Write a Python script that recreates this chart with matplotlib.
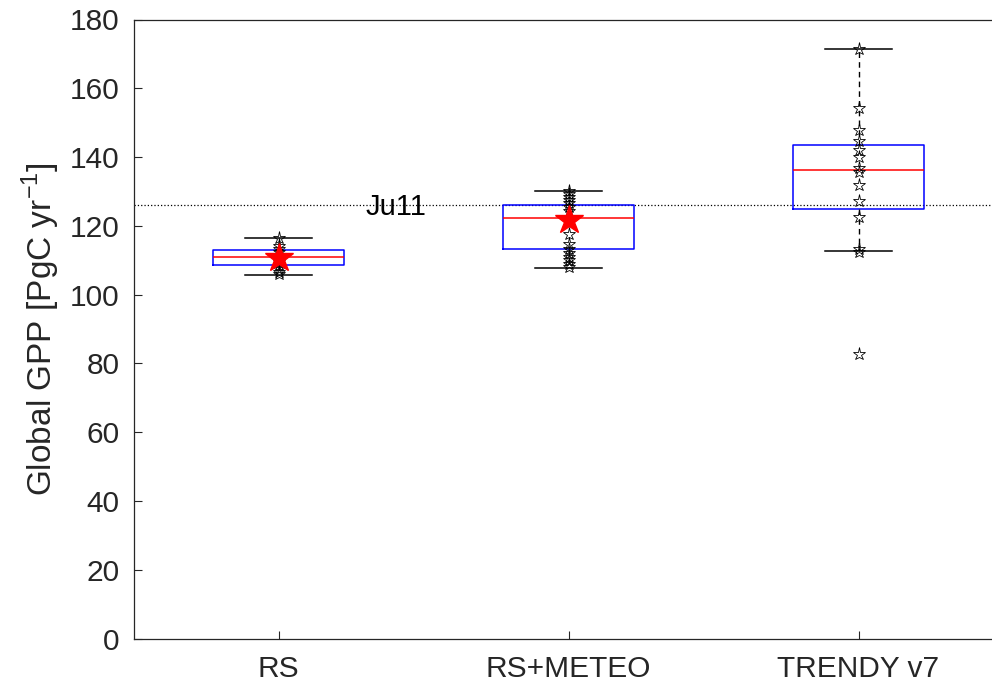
import matplotlib
matplotlib.use("Agg")

import numpy as np
import matplotlib.pyplot as plt

plt.rcParams["font.family"] = ["Liberation Sans", "DejaVu Sans"]
plt.rcParams["mathtext.fontset"] = "custom"
plt.rcParams["mathtext.rm"] = "Liberation Sans"

labels = ["RS", "RS+METEO", "TRENDY v7"]
# box statistics
q1 = [108.7, 113.4, 124.8]
med = [110.9, 122.3, 136.1]
q3 = [112.9, 126.2, 143.4]
whislo = [105.8, 107.8, 112.8]
whishi = [116.5, 130.2, 171.5]

# individual estimates
rs_pts = [116.5, 114.2, 113.3, 112.4, 111.5, 110.6, 109.6, 108.6, 107.5, 106.6, 106.0]
meteo_pts = [130.2, 129.2, 128.3, 127.5, 126.6, 125.6, 124.3, 117.7, 114.6,
             113.2, 112.1, 111.0, 110.0, 109.0, 108.0]
trendy_pts = [171.4, 154.3, 147.9, 144.8, 142.1, 139.9, 136.8, 135.6, 132.0,
              127.1, 122.5, 113.3, 112.5, 82.8]
means = [110.6, 121.6]
ju11 = 126.0

fig = plt.figure(figsize=(9.92, 6.9), dpi=100)
ax = fig.add_axes([133.5 / 992, 1 - 638.5 / 690, 870 / 992, 619 / 690])

stats = []
for i in range(3):
    stats.append({"label": labels[i], "q1": q1[i], "med": med[i], "q3": q3[i],
                  "whislo": whislo[i], "whishi": whishi[i], "fliers": []})

ax.bxp(stats, positions=[1, 2, 3], widths=0.45, showfliers=False,
       boxprops=dict(color="blue", linewidth=1.1),
       medianprops=dict(color="red", linewidth=1.1),
       whiskerprops=dict(color="black", linestyle=(0, (4, 3)), linewidth=1.0),
       capprops=dict(color="black", linewidth=1.1), capwidths=0.23)

ax.axhline(ju11, color="black", linestyle=":", linewidth=0.9, zorder=1)
ax.text(1.30, ju11 - 0.6, "Ju11", fontsize=21, va="center", ha="left")

for pos, pts in zip([1, 2, 3], [rs_pts, meteo_pts, trendy_pts]):
    ax.plot([pos] * len(pts), pts, linestyle="none", marker="*", markersize=9.5,
            markerfacecolor="none", markeredgecolor="black", markeredgewidth=0.6,
            zorder=4)

ax.plot([1, 2], means, linestyle="none", marker="*", markersize=21,
        color="red", markeredgecolor="red", zorder=5)

ax.set_xlim(0.5, 3.5)
ax.set_ylim(0, 180)
ax.set_yticks(np.arange(0, 181, 20))
ax.set_xticks([1, 2, 3])
ax.set_xticklabels(labels)
ax.tick_params(labelsize=21.5, colors="#262626", direction="in", length=6, width=0.8)
ax.tick_params(axis="x", pad=12)
ax.tick_params(axis="y", pad=10)
for lab in ax.get_xticklabels() + ax.get_yticklabels():
    lab.set_color("#262626")
ax.set_ylabel("Global GPP [PgC yr$^{\\mathregular{-1}}$]", fontsize=24,
              color="#262626", labelpad=6)
for s in ax.spines.values():
    s.set_color("#262626")
    s.set_linewidth(0.9)

fig.savefig("out.png", dpi=100)
